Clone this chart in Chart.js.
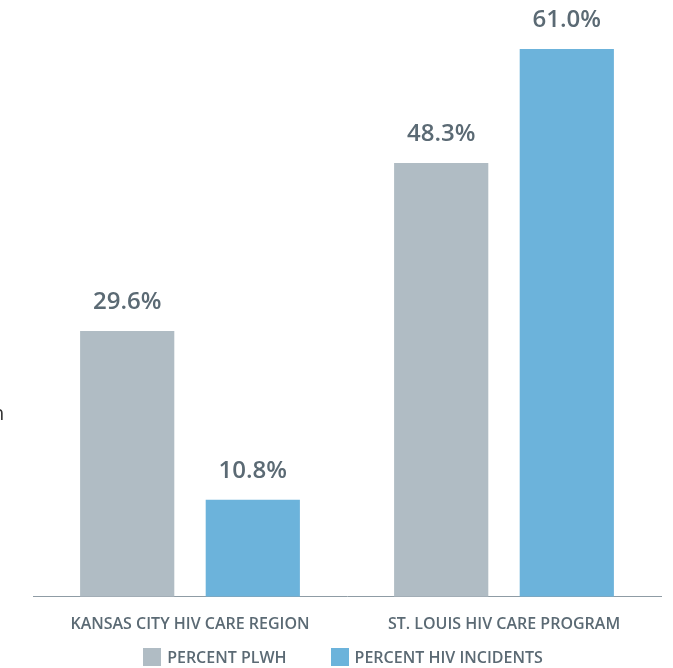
<!DOCTYPE html>
<html>
<head>
<meta charset="utf-8">
<script src="https://cdn.jsdelivr.net/npm/chart.js@4.4.1/dist/chart.umd.min.js"></script>
<style>
  html, body { margin: 0; padding: 0; background: #fff; overflow: hidden; }
  #wrap { position: relative; width: 673px; height: 668px; }
  #edge { position: absolute; left: -8px; top: 399px; font: 20px "Open Sans", sans-serif; color: #333; }
  #legend { position: absolute; left: 29px; width: 628px; top: 646px; display: flex; justify-content: center;
            font: 600 16px "Open Sans", sans-serif; color: #5b6a74; }
  #legend .item { display: flex; align-items: center; margin: 0 22px; }
  #legend .box { width: 18px; height: 18px; margin-right: 6px; }
</style>
</head>
<body>
<div id="wrap">
  <canvas id="chart" width="673" height="668"></canvas>
  <div id="legend"></div>
  <div id="edge">n</div>
</div>
<script>
var categories = ["KANSAS CITY HIV CARE REGION", "ST. LOUIS HIV CARE PROGRAM"];
var plwh = [29.6, 48.3];
var incidents = [10.8, 61.0];
var seriesNames = ["PERCENT PLWH", "PERCENT HIV INCIDENTS"];

var textColor = "#5b6a74";

var valueLabels = {
  id: "valueLabels",
  afterDatasetsDraw: function (chart) {
    var ctx = chart.ctx;
    ctx.save();
    ctx.fillStyle = textColor;
    ctx.font = "600 24px 'Open Sans'";
    ctx.textAlign = "center";
    ctx.textBaseline = "middle";
    chart.data.datasets.forEach(function (ds, i) {
      chart.getDatasetMeta(i).data.forEach(function (bar, j) {
        ctx.fillText(ds.data[j].toFixed(1) + "%", bar.x, bar.y - 29);
      });
    });
    ctx.restore();
  }
};

var chart = new Chart(document.getElementById("chart"), {
  type: "bar",
  data: {
    labels: categories,
    datasets: [{
      label: seriesNames[0],
      data: plwh,
      backgroundColor: "#b0bcc4"
    }, {
      label: seriesNames[1],
      data: incidents,
      backgroundColor: "#6cb3db"
    }]
  },
  options: {
    responsive: false,
    animation: false,
    categoryPercentage: 0.8,
    barPercentage: 0.75,
    layout: { padding: { left: 33, right: 12, top: 13, bottom: 16 } },
    plugins: {
      legend: { display: false },
      tooltip: { enabled: false }
    },
    scales: {
      x: {
        grid: { display: false, drawTicks: false },
        border: { color: "#8f9ca5", width: 1 },
        ticks: {
          color: textColor,
          padding: 18,
          font: { family: "'Open Sans'", size: 16, weight: "600" }
        }
      },
      y: {
        display: false,
        min: 0,
        max: 65
      }
    }
  },
  plugins: [valueLabels]
});

// legend built from the chart's datasets
var legend = document.getElementById("legend");
chart.data.datasets.forEach(function (ds) {
  var item = document.createElement("div");
  item.className = "item";
  var box = document.createElement("span");
  box.className = "box";
  box.style.background = ds.backgroundColor;
  var label = document.createElement("span");
  label.textContent = ds.label;
  item.appendChild(box);
  item.appendChild(label);
  legend.appendChild(item);
});
</script>
</body>
</html>
